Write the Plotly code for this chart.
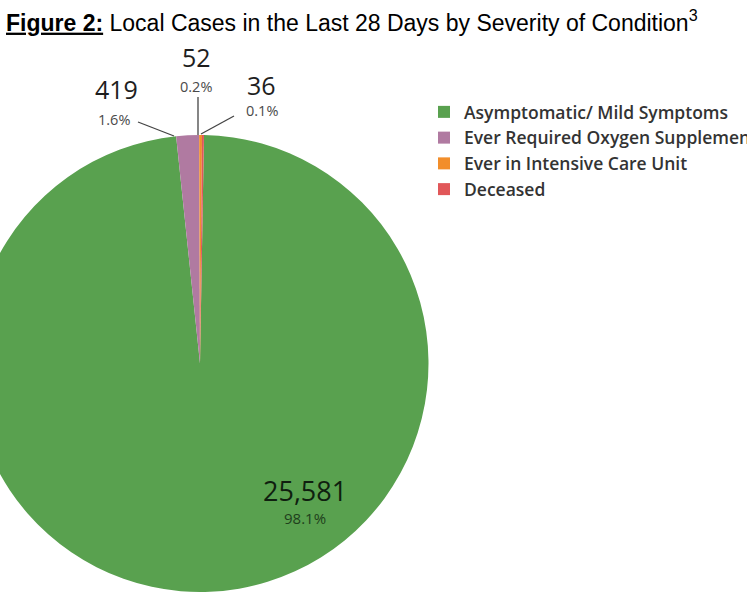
import plotly.graph_objects as go

labels = ["Asymptomatic/ Mild Symptoms", "Ever Required Oxygen Supplementation",
          "Ever in Intensive Care Unit", "Deceased"]
values = [25581, 419, 52, 36]
colors = ["#59A14F", "#B07AA1", "#F28E2B", "#E15759"]
count_text = ["25,581", "419", "52", "36"]
pct_text = ["98.1%", "1.6%", "0.2%", "0.1%"]

OX = 30          # page offset: figure is shifted left so the pie is cut like the original
W, H = 747 + OX, 598

def px(x):
    return (x + OX) / W

def py(y):
    return 1 - y / H

fig = go.Figure(go.Pie(
    labels=labels, values=values, sort=False, direction="clockwise", rotation=1,
    marker=dict(colors=colors, line=dict(width=0)),
    textinfo="none", hoverinfo="label+value+percent",
    domain=dict(x=[px(200 - 228.5), px(200 + 228.5)], y=[py(363.5 + 228.5), py(363.5 - 228.5)]),
))

num_font = dict(family="Open Sans", size=25, color="#1e1e1e")
pct_font = dict(family="Open Sans", size=14.5, color="#4a4a4a")

# label positions (screen px): (number x,y), (pct x,y)
label_pos = [((305, 490), (305, 518)), ((116, 89), (114, 120)),
             ((196, 57), (196, 86)), ((261, 85), (262, 111))]
ann = []
for i, ((nx, ny), (qx, qy)) in enumerate(label_pos):
    nf = dict(num_font)
    qf = dict(pct_font)
    if i == 0:
        nf["size"] = 27
        nf["color"] = "#0f1f0f"
        qf["size"] = 15
        qf["color"] = "#1f3f1c"
    ann.append(dict(x=px(nx), y=py(ny), xref="paper", yref="paper", text=count_text[i],
                    showarrow=False, font=nf, xanchor="center", yanchor="middle"))
    ann.append(dict(x=px(qx), y=py(qy), xref="paper", yref="paper", text=pct_text[i],
                    showarrow=False, font=qf, xanchor="center", yanchor="middle"))

ann.append(dict(x=px(4), y=py(21), xref="paper", yref="paper", xanchor="left", yanchor="middle",
                showarrow=False,
                text="<b><u>Figure 2:</u></b> Local Cases in the Last 28 Days by Severity of Condition<sup>3</sup>",
                font=dict(family="Liberation Sans", size=23, color="#000000")))

leaders = [((138, 122), (174, 136)), ((198, 97), (198, 135)), ((234, 116), (201, 134))]
shapes = [dict(type="line", xref="paper", yref="paper", x0=px(a[0]), y0=py(a[1]),
               x1=px(b[0]), y1=py(b[1]), line=dict(color="#444444", width=1.3))
          for a, b in leaders]

fig.update_layout(
    width=W, height=H, margin=dict(l=0, r=0, t=0, b=0, autoexpand=False),
    paper_bgcolor="white", plot_bgcolor="white",
    annotations=ann, shapes=shapes,
    showlegend=True,
    legend=dict(x=px(424), y=py(94), xanchor="left", yanchor="top",
                font=dict(family="Open Sans", size=17.5, color="#333333", weight=600),
                bgcolor="rgba(0,0,0,0)", itemwidth=30, tracegroupgap=2),
)

fig.write_html("out.html", config={"displayModeBar": False},
               post_script="document.body.style.margin='0';document.body.style.overflow='hidden';"
                           "var d=document.getElementById('{plot_id}');d.style.marginLeft='-%dpx';" % OX)
